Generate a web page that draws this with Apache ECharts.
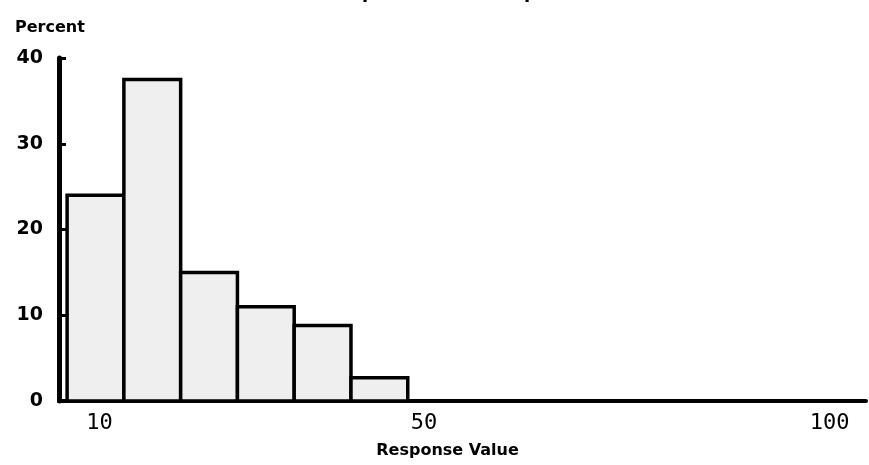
<!DOCTYPE html>
<html>
<head>
<meta charset="utf-8">
<script src="https://cdn.jsdelivr.net/npm/echarts@6/dist/echarts.min.js"></script>
<style>html,body{margin:0;padding:0;background:#fff;}#c{width:869px;height:465px;}</style>
</head>
<body>
<div id="c"></div>
<script>
// Histogram bins (Response Value) and their percentages
const binEdges = [6, 13, 20, 27, 34, 41, 48];
const percents = [24, 37.5, 15, 11, 8.8, 2.7];
const xTickValues = [10, 50, 100];
const titleText = 'Frequencies for Response';
const xName = 'Response Value';
const yName = 'Percent';

const data = percents.map((p, i) => [binEdges[i], binEdges[i + 1], p]);

const chart = echarts.init(document.getElementById('c'));
chart.setOption({
  backgroundColor: '#ffffff',
  animation: false,
  title: {
    text: titleText,
    left: 318,
    top: -21,
    textStyle: { fontFamily: 'DejaVu Sans', fontWeight: 'bold', fontSize: 18, color: '#000' }
  },
  grid: { left: 59, right: 3, top: 58, bottom: 64, containLabel: false },
  xAxis: {
    type: 'value',
    min: 5,
    max: 104.5,
    name: xName,
    nameLocation: 'middle',
    nameGap: 42,
    nameTextStyle: { fontFamily: 'DejaVu Sans', fontWeight: 'bold', fontSize: 16, color: '#000', padding: [0, 30, 0, 0] },
    axisLine: { show: true, onZero: false, lineStyle: { color: '#000', width: 4 } },
    axisTick: { show: false },
    splitLine: { show: false },
    axisLabel: {
      customValues: xTickValues,
      margin: 11,
      fontFamily: 'DejaVu Sans Mono',
      fontSize: 22,
      color: '#000'
    }
  },
  yAxis: {
    type: 'value',
    min: 0,
    max: 40,
    interval: 10,
    name: yName,
    nameLocation: 'end',
    nameGap: 22,
    nameTextStyle: { fontFamily: 'DejaVu Sans', fontWeight: 'bold', fontSize: 16, color: '#000', align: 'left', padding: [0, 0, 0, -44] },
    axisLine: { show: true, lineStyle: { color: '#000', width: 5 } },
    axisTick: { show: true, inside: true, length: 7, lineStyle: { color: '#000', width: 3 } },
    splitLine: { show: false },
    axisLabel: {
      margin: 16,
      fontFamily: 'DejaVu Sans',
      fontWeight: 'bold',
      fontSize: 19,
      color: '#000'
    }
  },
  series: [{
    type: 'custom',
    data: data,
    encode: { x: [0, 1], y: 2 },
    renderItem: function (params, api) {
      const p0 = api.coord([api.value(0), 0]);
      const p1 = api.coord([api.value(1), api.value(2)]);
      return {
        type: 'rect',
        shape: { x: p0[0], y: p1[1], width: p1[0] - p0[0], height: p0[1] - p1[1] },
        style: { fill: '#efefef', stroke: '#000', lineWidth: 3.5 }
      };
    },
    z: 1
  }]
});
</script>
</body>
</html>
